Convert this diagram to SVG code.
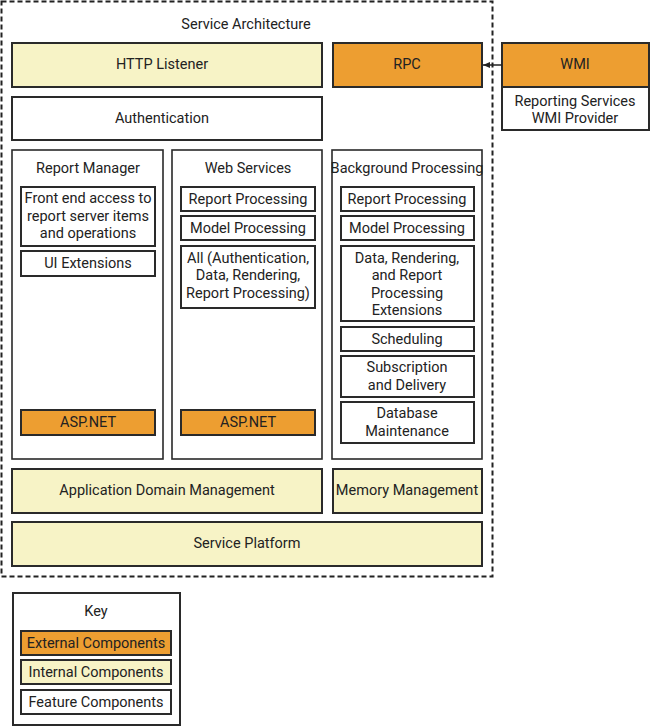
<svg xmlns="http://www.w3.org/2000/svg" width="650" height="726" viewBox="0 0 650 726">
<style>
text{font-family:Roboto,"Liberation Sans",sans-serif;font-size:14.5px;fill:#222;text-anchor:middle}
.b{stroke:#2a2a2a;stroke-width:2}
.ext{fill:#ED9E31}
.int{fill:#F7F3C6}
.feat{fill:#fff}
.col{fill:#fff;stroke:#2a2a2a;stroke-width:1.6}
</style>
<defs>
<marker id="ah" markerWidth="8" markerHeight="8" refX="7" refY="4" orient="auto" markerUnits="userSpaceOnUse">
<path d="M0,1 L7,4 L0,7 z" fill="#222"/>
</marker>
</defs>
<rect width="650" height="726" fill="#fff"/>
<g id="service-architecture">
<rect x="1.5" y="1.5" width="491" height="575" fill="none" stroke="#222" stroke-width="2" stroke-dasharray="5,3"/>
<text x="246" y="29">Service Architecture</text>
</g>
<g id="http-listener"><rect class="b int" x="12" y="43" width="310" height="44"/><text x="162" y="69">HTTP Listener</text></g>
<g id="authentication"><rect class="b feat" x="12" y="97" width="310" height="43"/><text x="162" y="123">Authentication</text></g>
<g id="rpc"><rect class="b ext" x="333" y="43" width="149" height="44"/><text x="407" y="69">RPC</text></g>
<g id="wmi"><rect class="b feat" x="502" y="43" width="147" height="87"/><rect class="b ext" x="502" y="43" width="147" height="44"/><text x="575" y="69">WMI</text><text x="575" y="106">Reporting Services</text><text x="575" y="123">WMI Provider</text></g>
<g id="report-manager">
<rect class="col" x="12" y="150" width="151" height="309"/>
<text x="88" y="173">Report Manager</text>
<rect class="b feat" x="21" y="187" width="134" height="59"/>
<text x="88" y="203">Front end access to</text><text x="88" y="220.5">report server items</text><text x="88" y="238">and operations</text>
<rect class="b feat" x="21" y="251" width="134" height="25"/><text x="88" y="268">UI Extensions</text>
<rect class="b ext" x="21" y="410" width="134" height="25"/><text x="88" y="427">ASP.NET</text>
</g>
<g id="web-services">
<rect class="col" x="172" y="150" width="150" height="309"/>
<text x="248" y="173">Web Services</text>
<rect class="b feat" x="181" y="187" width="134" height="24"/><text x="248" y="204">Report Processing</text>
<rect class="b feat" x="181" y="216" width="134" height="24"/><text x="248" y="233">Model Processing</text>
<rect class="b feat" x="181" y="246" width="134" height="62"/>
<text x="248" y="262.5">All (Authentication,</text><text x="248" y="280">Data, Rendering,</text><text x="248" y="297.5">Report Processing)</text>
<rect class="b ext" x="181" y="410" width="134" height="25"/><text x="248" y="427">ASP.NET</text>
</g>
<g id="background-processing">
<rect class="col" x="332" y="150" width="150" height="309"/>
<text x="407" y="173">Background Processing</text>
<rect class="b feat" x="341" y="187" width="133" height="24"/><text x="407" y="204">Report Processing</text>
<rect class="b feat" x="341" y="216" width="133" height="24"/><text x="407" y="233">Model Processing</text>
<rect class="b feat" x="341" y="246" width="133" height="75"/>
<text x="407" y="262.5">Data, Rendering,</text><text x="407" y="280">and Report</text><text x="407" y="297.5">Processing</text><text x="407" y="315">Extensions</text>
<rect class="b feat" x="341" y="327" width="133" height="24"/><text x="407" y="344">Scheduling</text>
<rect class="b feat" x="341" y="356" width="133" height="41"/><text x="407" y="372">Subscription</text><text x="407" y="389.5">and Delivery</text>
<rect class="b feat" x="341" y="402" width="133" height="41"/><text x="407" y="418">Database</text><text x="407" y="435.5">Maintenance</text>
</g>
<g id="app-domain"><rect class="b int" x="12" y="469" width="310" height="44"/><text x="167" y="495">Application Domain Management</text></g>
<g id="memory"><rect class="b int" x="333" y="469" width="149" height="44"/><text x="407" y="495">Memory Management</text></g>
<g id="service-platform"><rect class="b int" x="12" y="522" width="470" height="44"/><text x="247" y="548">Service Platform</text></g>
<g id="key">
<rect class="b feat" x="13" y="593" width="167" height="132"/>
<text x="96" y="616">Key</text>
<rect class="b ext" x="21" y="631" width="150" height="24"/><text x="96" y="648">External Components</text>
<rect class="b int" x="21" y="660" width="150" height="24"/><text x="96" y="677">Internal Components</text>
<rect class="b feat" x="21" y="690" width="150" height="24"/><text x="96" y="707">Feature Components</text>
</g>
<g id="connectors">
<line x1="502" y1="65" x2="483" y2="65" stroke="#222" stroke-width="1.5" marker-end="url(#ah)"/>
</g>
</svg>
